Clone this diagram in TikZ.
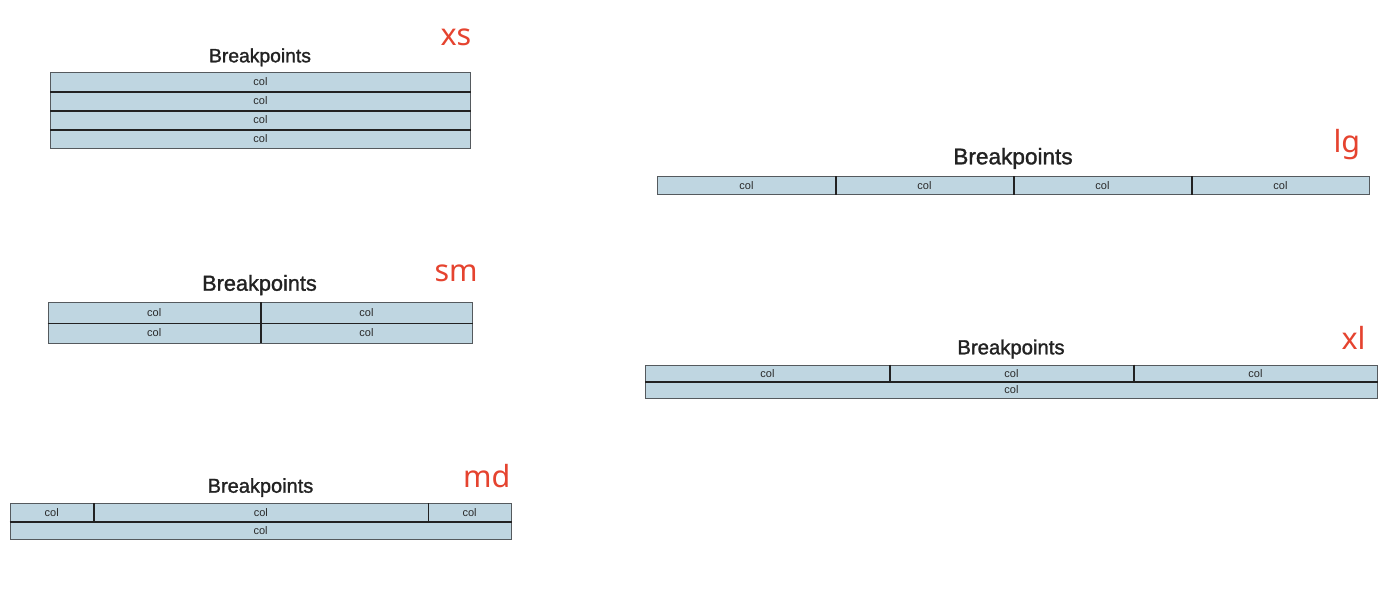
\documentclass[tikz,border=0pt]{standalone}
\usepackage{fontspec}
\setmainfont{Liberation Sans}
\newfontfamily\titlefont[FakeBold=1.4]{Liberation Sans}
\newfontfamily\labfont{Noto Sans}
\definecolor{cellfill}{HTML}{BFD6E1}
\definecolor{cellline}{HTML}{555A5E}
\definecolor{sepcol}{HTML}{222222}
\definecolor{coltext}{HTML}{2A2A2A}
\definecolor{titletext}{HTML}{222222}
\definecolor{labred}{HTML}{E5432F}
\tikzset{
  cell/.style={rectangle, draw=cellline, fill=cellfill, line width=0.9pt, inner sep=0pt,
    anchor=north west, text=coltext, font=\fontsize{11}{12}\selectfont},
  ttl/.style={anchor=base, text=titletext, font=\titlefont\fontsize{#1}{#1}\selectfont},
  lab/.style={anchor=base west, text=labred, font=\labfont\fontsize{30.5}{36}\selectfont},
  sepline/.style={draw=sepcol, line width=1.5pt}
}
\begin{document}
\begin{tikzpicture}[x=1pt,y=-1pt]
\useasboundingbox (0,0) rectangle (1392,608);
% ---------- xs ----------
\node[ttl=19.3] (xst) at (260,62.3) {Breakpoints};
\node[lab] (xsl) at (437,45.7) {xs};
\node[cell, minimum width=420pt, minimum height=19pt] (xs1) at (50,72) {col};
\node[cell, minimum width=420pt, minimum height=19pt] (xs2) at (50,91) {col};
\node[cell, minimum width=420pt, minimum height=19pt] (xs3) at (50,110) {col};
\node[cell, minimum width=420pt, minimum height=19pt] (xs4) at (50,129) {col};
\draw[sepline] (xs1.south west) -- (xs1.south east);
\draw[sepline] (xs2.south west) -- (xs2.south east);
\draw[sepline] (xs3.south west) -- (xs3.south east);
% ---------- sm ----------
\node[ttl=21.7] (smt) at (259.5,290.7) {Breakpoints};
\node[lab] (sml) at (431,281) {sm};
\node[cell, minimum width=212.5pt, minimum height=20.5pt] (sm1) at (47.5,302) {col};
\node[cell, minimum width=212pt, minimum height=20.5pt] (sm2) at (260,302) {col};
\node[cell, minimum width=212.5pt, minimum height=20pt] (sm3) at (47.5,322.5) {col};
\node[cell, minimum width=212pt, minimum height=20pt] (sm4) at (260,322.5) {col};
\draw[sepline] (sm1.north east) -- (sm3.south east);
\draw[sepline] (sm1.south west) -- (sm2.south east);
% ---------- md ----------
\node[ttl=20] (mdt) at (260.5,492.7) {Breakpoints};
\node[lab] (mdl) at (459.5,487.3) {md};
\node[cell, minimum width=83.5pt, minimum height=17.7pt] (md1) at (9.5,503.3) {col};
\node[cell, minimum width=334.7pt, minimum height=17.7pt] (md2) at (93,503.3) {col};
\node[cell, minimum width=83pt, minimum height=17.7pt] (md3) at (427.7,503.3) {col};
\node[cell, minimum width=501.2pt, minimum height=17.7pt] (md4) at (9.5,521) {col};
\draw[sepline] (md1.north east) -- (md1.south east);
\draw[sepline] (md2.north east) -- (md2.south east);
\draw[sepline] (md1.south west) -- (md3.south east);
% ---------- lg ----------
\node[ttl=22.6] (lgt) at (1013,164.3) {Breakpoints};
\node[lab] (lgl) at (1330,152.7) {lg};
\node[cell, minimum width=178pt, minimum height=18pt] (lg1) at (657,176) {col};
\node[cell, minimum width=178pt, minimum height=18pt] (lg2) at (835,176) {col};
\node[cell, minimum width=178pt, minimum height=18pt] (lg3) at (1013,176) {col};
\node[cell, minimum width=178pt, minimum height=18pt] (lg4) at (1191,176) {col};
\draw[sepline] (lg1.north east) -- (lg1.south east);
\draw[sepline] (lg2.north east) -- (lg2.south east);
\draw[sepline] (lg3.north east) -- (lg3.south east);
% ---------- xl ----------
\node[ttl=20.3] (xlt) at (1011,354.3) {Breakpoints};
\node[lab] (xll) at (1338,349.3) {xl};
\node[cell, minimum width=244pt, minimum height=16.5pt] (xl1) at (645,364.5) {col};
\node[cell, minimum width=244pt, minimum height=16.5pt] (xl2) at (889,364.5) {col};
\node[cell, minimum width=244pt, minimum height=16.5pt] (xl3) at (1133,364.5) {col};
\node[cell, minimum width=732pt, minimum height=16.5pt] (xl4) at (645,381) {col};
\draw[sepline] (xl1.north east) -- (xl1.south east);
\draw[sepline] (xl2.north east) -- (xl2.south east);
\draw[sepline] (xl1.south west) -- (xl3.south east);
\end{tikzpicture}
\end{document}
